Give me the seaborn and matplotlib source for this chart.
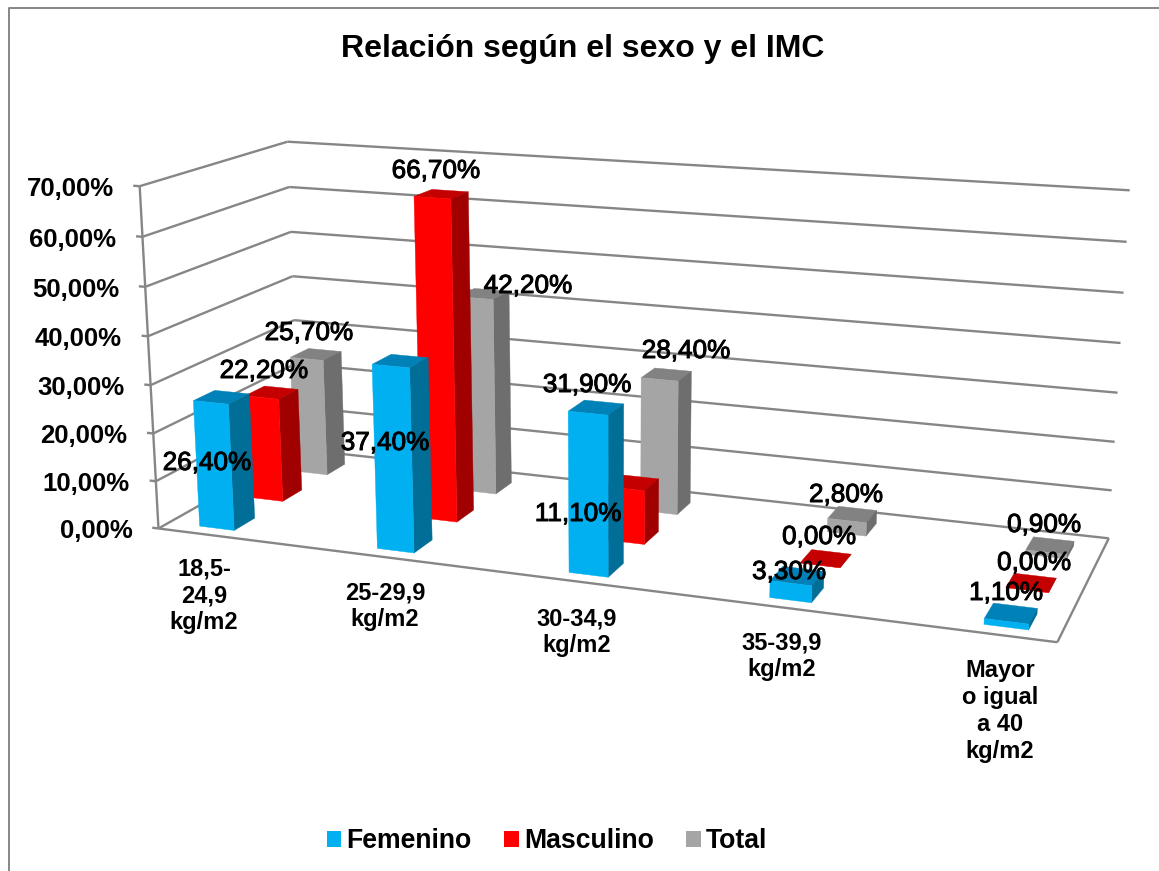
import numpy as np
import pandas as pd
import seaborn as sns
import matplotlib
matplotlib.use("Agg")
import matplotlib.pyplot as plt
import matplotlib.patheffects as pe
from matplotlib.patches import Patch
from mpl_toolkits.mplot3d.art3d import Line3DCollection

# ---------- data ----------
categories = ["18,5-\n24,9\nkg/m2", "25-29,9\nkg/m2", "30-34,9\nkg/m2", "35-39,9\nkg/m2",
              "Mayor\no igual\na 40\nkg/m2"]
series_names = ["Femenino", "Masculino", "Total"]
femenino = [26.4, 37.4, 31.9, 3.3, 1.1]
masculino = [22.2, 66.7, 11.1, 0.0, 0.0]
total = [25.7, 42.2, 28.4, 2.8, 0.9]
y_ticks = [0, 10, 20, 30, 40, 50, 60, 70]

df = pd.DataFrame({"cat": categories, "Femenino": femenino, "Masculino": masculino, "Total": total})

# ---------- style ----------
W, H = 1159, 871
sns.set_theme(style="white")
plt.rcParams["font.family"] = ["Liberation Sans", "DejaVu Sans"]
front_cols = sns.color_palette(["#00B0F0", "#FF0000", "#A5A5A5"])
top_cols = ["#0082B9", "#C40000", "#828282"]
side_cols = ["#006E96", "#A00000", "#6E6E6E"]
GRID = "#868686"
LW = 1.7

# ---------- camera: calibrated on the frame corners (cat, depth, value) -> pixel ----------
anchors = [((0, 0, 0), (159, 529)), ((0, 0, 70), (139, 185)), ((0, 1, 70), (288, 142)),
           ((0, 1, 0), (298, 448)), ((5, 1, 70), (1129, 190)), ((5, 1, 0), (1109, 538)),
           ((5, 0, 0), (1057, 642)), ((0, 0, 30), (151, 386)), ((0, 1, 40), (293, 277)),
           ((5, 1, 10), (1112, 491)), ((5, 1, 60), (1127, 242))]
rows = []
for (x, y, z), (u, v) in anchors:
    X = np.array([x / 5, y, z / 70, 1.0])
    u, v = u / 1000, v / 1000
    rows.append(np.r_[X, 0 * X, -u * X])
    rows.append(np.r_[0 * X, X, -v * X])
Hm = np.linalg.svd(np.array(rows))[2][-1].reshape(3, 4)
if Hm[2, 3] < 0:
    Hm = -Hm
P = np.diag([1000.0, 1000.0, 1.0]) @ Hm @ np.diag([1 / 5, 1.0, 1 / 70, 1.0])


def project(x, y, z):
    q = P @ np.array([x, y, z, 1.0])
    return q[0] / q[2], q[1] / q[2]


# ---------- figure ----------
fig = plt.figure(figsize=(W / 100, H / 100), dpi=100, facecolor="white")
hfrac = W / H
ax = fig.add_axes([0, 0.5 - hfrac / 2, 1, hfrac], projection="3d")
ax.set_axis_off()
ax.patch.set_visible(False)
ax.computed_zorder = False


def camera():
    inv = ax.transData.inverted()
    (ox, oy), (ex, ey) = inv.transform([(0, 0), (W, H)])
    sx, sy = (ex - ox) / W, (ey - oy) / H
    return np.array([sx * P[0] + ox * P[2],
                     -sy * P[1] + (sy * H + oy) * P[2],
                     [-0.05, 1.0, 0.0, 0.5],
                     P[2]])


ax.get_proj = camera

# frame lines
segments = []
for v in y_ticks:
    segments.append([(0, 0, v), (0, 1, v)])
    segments.append([(0, 1, v), (5, 1, v)])
    segments.append([(-0.04, 0, v), (0, 0, v)])
segments.append([(0, 0, 0), (0, 0, 70)])
segments.append([(0, 0, 0), (5, 0, 0)])
segments.append([(5, 0, 0), (5, 1, 0)])
frame = Line3DCollection(segments, colors=GRID, linewidths=LW, zorder=1)
ax.add_collection3d(frame)

# bars (front series painted last)
bar_left = [0.195, 1.30, 2.42, 3.52, 4.62]
bar_width = 0.22
series_y = [0.07, 0.41, 0.745]
bar_depth = 0.14
none = (0, 0, 0, 0)
for s, name in enumerate(series_names):
    for c in range(len(categories)):
        # faces: -z, +z, -y, +y, -x, +x
        faces = [none, top_cols[s], front_cols[s], none, none, side_cols[s]]
        ax.bar3d(bar_left[c], series_y[s], 0, bar_width, bar_depth, df[name][c],
                 color=faces, edgecolors=faces, linewidth=0.3, shade=False,
                 zorder=10 + (2 - s) * 10 + c)

# data labels (pixel centres of the reference's label placement)
label_px = {"Femenino": [(207, 463), (385, 443), (587, 385), (789, 572), (1006, 593)],
            "Masculino": [(264, 371), (436, 171), (578, 514), (819, 537), (1034, 563)],
            "Total": [(309, 333), (528, 286), (686, 351), (846, 495), (1044, 525)]}
stroke = [pe.withStroke(linewidth=0.7, foreground="black")]
for name in series_names:
    for c in range(len(categories)):
        px, py = label_px[name][c]
        txt = f"{df[name][c]:.2f}%".replace(".", ",")
        fig.text(px / W, 1 - py / H, txt, ha="center", va="center", fontsize=18.8,
                 color="black", path_effects=stroke, zorder=50)

# value axis labels
for v in y_ticks:
    px, py = project(0, 0, v)
    fig.text((px - 26) / W, 1 - (py + 3) / H, f"{v:.2f}%".replace(".", ","), ha="right",
             va="center", fontsize=18.5, fontweight="bold", color="black")

# category labels
cat_px = [(204, 596), (385, 606), (577, 632), (782, 656), (1000, 711)]
for lab, (px, py) in zip(categories, cat_px):
    fig.text(px / W, 1 - py / H, lab, ha="center", va="center", fontsize=17, fontweight="bold",
             color="black", linespacing=1.22)

# title
fig.text(583 / W, 1 - 49 / H, "Relación según el sexo y el IMC", ha="center", va="center",
         fontsize=23, fontweight="bold", color="black")

# legend
handles = [Patch(facecolor=col, edgecolor="none", label=n) for col, n in zip(front_cols, series_names)]
fig.legend(handles=handles, loc="center", bbox_to_anchor=(547 / W, 1 - 841 / H), ncol=3, frameon=False,
           prop={"size": 19.2, "weight": "bold"}, labelcolor="black", handlelength=0.55, handleheight=0.55,
           handletextpad=0.2, columnspacing=1.2)

# chart frame
fig.add_artist(plt.Line2D([8.5 / W, 8.5 / W, 1], [0, 1 - 8.5 / H, 1 - 8.5 / H], color=GRID, lw=1.4))

fig.savefig("out.png", dpi=100, facecolor="white")
